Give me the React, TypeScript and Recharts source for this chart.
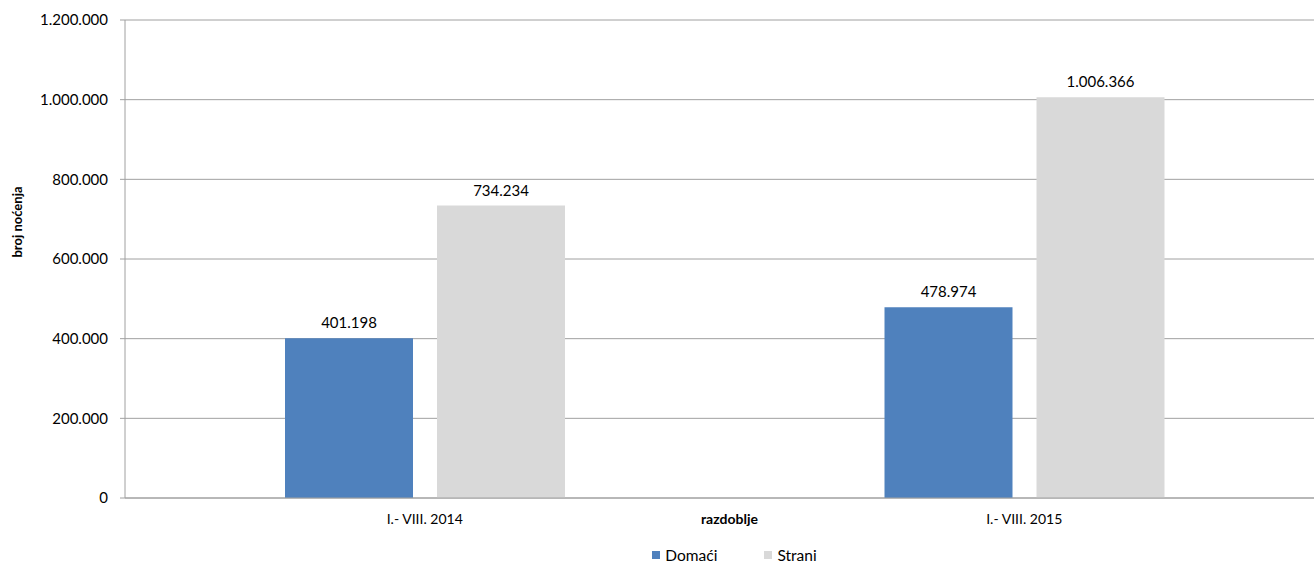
import React from "react";
import { BarChart, Bar, XAxis, YAxis, CartesianGrid, Legend, LabelList, Label } from "recharts";

const periods = ["I.- VIII. 2014", "I.- VIII. 2015"];
const domaci = [401198, 478974];
const strani = [734234, 1006366];
const yTicks = [0, 200000, 400000, 600000, 800000, 1000000, 1200000];

const data = periods.map((p, i) => ({ period: p, domaci: domaci[i], strani: strani[i] }));

const fmt = (v: number) => String(v).replace(/\B(?=(\d{3})+(?!\d))/g, ".");

const FONT = "Lato, 'Open Sans', sans-serif";

function LegendBox({ payload }: any) {
  return (
    <div style={{ display: "flex", justifyContent: "center", paddingLeft: 145, fontFamily: FONT, fontSize: 15.5, lineHeight: "18px", color: "#000" }}>
      {(payload || []).map((it: any, i: number) => (
        <div key={i} style={{ display: "flex", alignItems: "center", marginRight: i === 0 ? 47 : 0 }}>
          <span style={{ width: 8, height: 8, background: it.color, display: "inline-block", marginRight: 5 }} />
          <span>{it.value}</span>
        </div>
      ))}
    </div>
  );
}

function YTitle({ viewBox }: any) {
  const cx = viewBox.x + 17;
  const cy = viewBox.y + viewBox.height / 2 - 37;
  return (
    <text x={cx} y={cy} transform={`rotate(-90 ${cx} ${cy})`} textAnchor="middle" dominantBaseline="central"
      style={{ fill: "#000", fontSize: 13, fontWeight: 700, fontFamily: FONT }}>
      broj noćenja
    </text>
  );
}

export default function App() {
  return (
    <div style={{ position: "absolute", left: 0, top: 0, width: 1314, height: 565, background: "#fff", overflow: "hidden" }}>
      <BarChart
        width={1314}
        height={565}
        data={data}
        margin={{ top: 20, right: -10, left: 0, bottom: 7 }}
        barCategoryGap={160}
        barGap={24}
      >
        <CartesianGrid vertical={false} stroke="#a0a0a0" />
        <XAxis
          dataKey="period"
          height={40}
          tickLine={false}
          tickSize={0}
          tickMargin={16}
          axisLine={{ stroke: "#a0a0a0" }}
          tick={{ fill: "#000", fontSize: 14, fontFamily: FONT }}
        >
          <Label value="razdoblje" position="insideTop" offset={16} dx={5} style={{ fill: "#000", fontSize: 14, fontWeight: 700, fontFamily: FONT }} />
        </XAxis>
        <YAxis
          width={125}
          domain={[0, 1200000]}
          ticks={yTicks}
          tickFormatter={fmt}
          tickSize={5}
          tickMargin={12}
          axisLine={{ stroke: "#a0a0a0" }}
          tickLine={{ stroke: "#a0a0a0" }}
          tick={{ fill: "#000", fontSize: 15, fontFamily: FONT }}
        >
          <Label content={<YTitle />} />
        </YAxis>
        <Legend verticalAlign="bottom" height={20} content={<LegendBox />} wrapperStyle={{ top: 546, bottom: "auto" }} />
        <Bar dataKey="domaci" name="Domaći" fill="#4f81bd" barSize={128} isAnimationActive={false}>
          <LabelList dataKey="domaci" position="top" offset={10} formatter={(v: any) => fmt(v)} style={{ fill: "#000", fontSize: 15, fontFamily: FONT }} />
        </Bar>
        <Bar dataKey="strani" name="Strani" fill="#d9d9d9" barSize={128} isAnimationActive={false}>
          <LabelList dataKey="strani" position="top" offset={10} formatter={(v: any) => fmt(v)} style={{ fill: "#000", fontSize: 15, fontFamily: FONT }} />
        </Bar>
      </BarChart>
    </div>
  );
}
